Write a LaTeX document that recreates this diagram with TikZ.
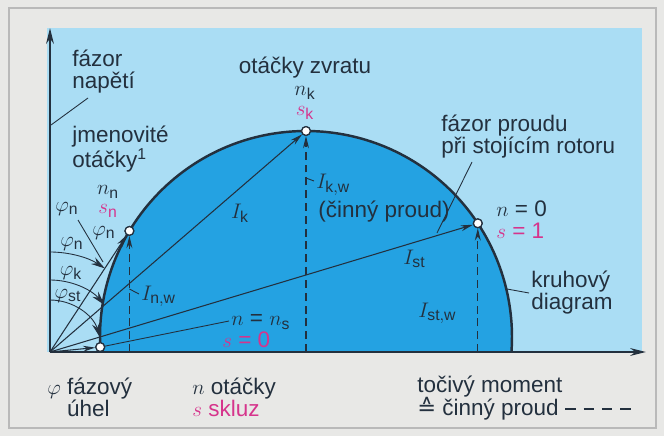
\documentclass[tikz,border=0pt]{standalone}
\usepackage{fontspec}
\setmainfont{Liberation Sans}
\newfontfamily\symfont{DejaVu Sans}
\usetikzlibrary{arrows.meta}
\definecolor{paper}{RGB}{232,232,230}
\definecolor{skyblue}{RGB}{170,221,244}
\definecolor{discblue}{RGB}{36,162,226}
\definecolor{ink}{RGB}{35,48,62}
\definecolor{slipred}{RGB}{214,52,140}

\begin{document}
\begin{tikzpicture}[
    x=0.02cm, y=-0.02cm,
    lbl/.style={text=ink, font=\fontsize{12.8}{12.5}\selectfont, inner sep=0pt, align=left},
    slip/.style={lbl, text=slipred},
    pt/.style={circle, draw=ink, fill=white, line width=0.7pt, minimum size=5pt, inner sep=0pt},
    phasor/.style={draw=ink, line width=0.6pt, -{Stealth[length=7pt,width=3.4pt]}},
    wline/.style={draw=ink, line width=0.6pt, dash pattern=on 4.5pt off 2.8pt, -{Stealth[length=7pt,width=3.4pt]}},
    angarc/.style={draw=ink, line width=0.5pt, -{Stealth[length=8pt,width=4.4pt]}},
    lead/.style={draw=ink, line width=0.5pt},
    axis/.style={draw=ink, line width=1.1pt, -{Stealth[length=9pt,width=4.4pt]}},
]
\useasboundingbox (0,0) rectangle (664,436);
\fill[paper] (0,0) rectangle (664,436);
\draw[gray!55, line width=0.6pt] (9,8) rectangle (656,428);
\fill[skyblue] (47,28) rectangle (642,352);

\coordinate (O) at (50,352);
\coordinate (M) at (306,337);
\coordinate (ytip) at (50,28);
\coordinate (xtip) at (646,352);

% disc cut off by the torque axis
\begin{scope}
  \clip (40,20) rectangle (650,352);
  \fill[discblue] (M) circle[radius=206];
\end{scope}

\node[pt] (ps) at (100.2,347.1) {};
\node[pt] (pn) at (129.4,230.9) {};
\node[pt] (pk) at (306,131) {};
\node[pt] (pst) at (477.8,223.3) {};

\coordinate (fn) at (129.4,352);
\coordinate (fk) at (306,352);
\coordinate (fst) at (477.8,352);

% active components
\draw[wline] (fn) -- (pn);
\draw[wline] (fk) -- (pk);
\draw[wline] (fst) -- (pst);

% current phasors
\draw[phasor] (O) -- (ps);
\draw[phasor] (O) -- (pn);
\draw[phasor] (O) -- (pk);
\draw[phasor] (O) -- (pst);

% phase angles
\draw[angarc] (O) ++(-90:100) arc[start angle=-90, end angle=-56.7, radius=100];
\draw[angarc] (O) ++(-90:72) arc[start angle=-90, end angle=-40.8, radius=72];
\draw[angarc] (O) ++(-90:52) arc[start angle=-90, end angle=-16.6, radius=52];

\draw[ink, line width=1.4pt] (M) ++(177.2:206) arc[start angle=177.2, end angle=364.2, radius=206];

\draw[axis] (O) -- (ytip);
\draw[axis] (O) -- (xtip);

\node[pt] at (ps) {};
\node[pt] at (pn) {};
\node[pt] at (pk) {};
\node[pt] at (pst) {};

\node[lbl, anchor=west] (voltage) at (72,72) {fázor\\napětí};
\node[lbl, anchor=west] (rated) at (72,149) {jmenovité\\otáčky\textsuperscript{1}};
\node[lbl] (nn) at (108,192) {$n_\mathrm{n}$};
\node[slip] (sn) at (108,211) {$s_\mathrm{n}$};
\node[lbl] (phinA) at (67,209) {$\varphi_\mathrm{n}$};
\node[lbl] (phinB) at (104,233) {$\varphi_\mathrm{n}$};
\node[lbl] (phinC) at (72,244) {$\varphi_\mathrm{n}$};
\node[lbl] (phik) at (71,273) {$\varphi_\mathrm{k}$};
\node[lbl] (phist) at (68,296) {$\varphi_\mathrm{st}$};

\node[lbl] (pullout) at (305,68) {otáčky zvratu};
\node[lbl] (nk) at (305,93) {$n_\mathrm{k}$};
\node[slip] (sk) at (305,113) {$s_\mathrm{k}$};
\node[lbl] (Ik) at (240,213) {$I_\mathrm{k}$};
\node[lbl, anchor=west] (Ikw) at (316,185) {$I_\mathrm{k,w}$};
\node[lbl, anchor=west] (active) at (318,212) {(činný proud)};
\node[lbl, anchor=west] (Inw) at (141,296) {$I_\mathrm{n,w}$};
\node[lbl, anchor=west] (Ist) at (403,259) {$I_\mathrm{st}$};
\node[lbl, anchor=west] (Istw) at (418,313) {$I_\mathrm{st,w}$};
\node[lbl, anchor=west] (nsync) at (231,322) {$n$ = $n_\mathrm{s}$};
\node[slip, anchor=west] (szero) at (222,340) {$s$ = 0};

\node[lbl, anchor=west] (locked) at (441,137) {fázor proudu\\při stojícím rotoru};
\node[lbl, anchor=west] (nzero) at (496,209) {$n$ = 0};
\node[slip, anchor=west] (sone) at (496,231) {$s$ = 1};
\node[lbl, anchor=west] (circ) at (531,293) {kruhový\\diagram};

% leaders
\coordinate (vA) at (88,98);   \coordinate (vB) at (51,125);
\coordinate (aA) at (78,220);  \coordinate (aB) at (103,262);
\coordinate (lA) at (472,162); \coordinate (lB) at (437,233);
\coordinate (cA) at (507,289); \coordinate (cB) at (529,293);
\coordinate (sB) at (229,321);
\coordinate (tnA) at (129.4,289); \coordinate (tnB) at (139,294);
\coordinate (tkA) at (306,178);   \coordinate (tkB) at (314,181);
\draw[lead] (vA) -- (vB);
\draw[lead] (aA) -- (aB);
\draw[lead] (lA) -- (lB);
\draw[lead] (cA) -- (cB);
\draw[lead] (ps) -- (sB);
\draw[lead] (tnA) -- (tnB);
\draw[lead] (tkA) -- (tkB);

% legend
\node[lbl, anchor=west] (phileg) at (47,397) {$\varphi$ fázový\\\hphantom{$\varphi$} úhel};
\node[lbl, anchor=west] (nleg) at (192,397) {$n$ otáčky\\\textcolor{slipred}{$s$ skluz}};
\node[lbl, anchor=west] (mleg) at (417,387) {točivý moment};
\node[lbl, anchor=west] (wleg) at (417,409) {{\symfont ≙} činný proud};
\draw[lead, line width=0.7pt, dash pattern=on 6pt off 4.5pt] (wleg.east) ++(6,0) -- ++(68,0);

\end{tikzpicture}
\end{document}
